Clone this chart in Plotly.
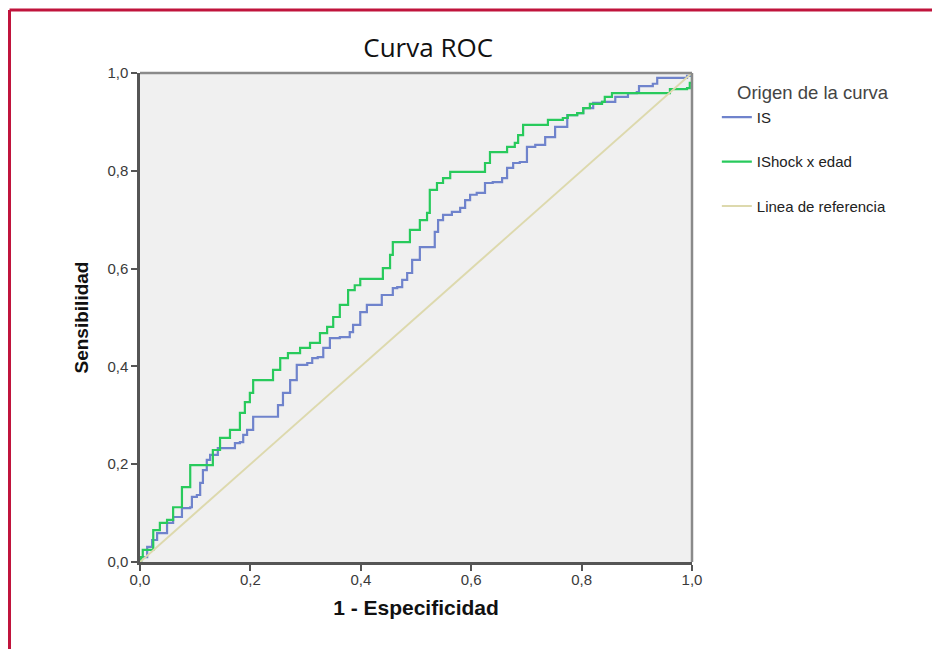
import plotly.graph_objects as go

# ---- data ----
is_x = [0.0, 0.002, 0.013, 0.022, 0.031, 0.042, 0.049, 0.06, 0.076, 0.091, 0.094, 0.103, 0.109, 0.114,
        0.121, 0.127, 0.141, 0.167, 0.172, 0.181, 0.187, 0.194, 0.205, 0.241, 0.25, 0.259, 0.272,
        0.284, 0.303, 0.312, 0.322, 0.332, 0.344, 0.362, 0.38, 0.386, 0.399, 0.411, 0.429, 0.438,
        0.458, 0.466, 0.475, 0.484, 0.493, 0.507, 0.522, 0.534, 0.54, 0.549, 0.565, 0.58, 0.589,
        0.598, 0.61, 0.625, 0.639, 0.656, 0.665, 0.676, 0.688, 0.701, 0.716, 0.734, 0.752, 0.774,
        0.792, 0.803, 0.821, 0.837, 0.861, 0.882, 0.884, 0.9, 0.904, 0.929, 0.937, 0.991, 1.0]
is_y = [0.0, 0.01, 0.031, 0.045, 0.059, 0.059, 0.08, 0.092, 0.11, 0.112, 0.133, 0.137, 0.162, 0.188,
        0.209, 0.219, 0.233, 0.233, 0.243, 0.245, 0.26, 0.27, 0.297, 0.297, 0.321, 0.346, 0.372,
        0.403, 0.407, 0.417, 0.419, 0.438, 0.458, 0.46, 0.47, 0.485, 0.511, 0.526, 0.526, 0.546,
        0.56, 0.562, 0.577, 0.591, 0.618, 0.644, 0.644, 0.675, 0.699, 0.71, 0.716, 0.724, 0.74,
        0.751, 0.755, 0.775, 0.777, 0.785, 0.806, 0.816, 0.818, 0.849, 0.853, 0.869, 0.89, 0.914,
        0.918, 0.928, 0.939, 0.941, 0.951, 0.951, 0.959, 0.961, 0.973, 0.978, 0.99, 0.994, 1.0]

ish_x = [0.0, 0.002, 0.005, 0.024, 0.036, 0.049, 0.06, 0.076, 0.091, 0.123, 0.132, 0.145, 0.163,
         0.181, 0.19, 0.199, 0.205, 0.23, 0.241, 0.254, 0.268, 0.29, 0.308, 0.326, 0.339, 0.35,
         0.362, 0.377, 0.389, 0.399, 0.435, 0.44, 0.453, 0.458, 0.476, 0.489, 0.507, 0.52, 0.525,
         0.538, 0.549, 0.562, 0.616, 0.625, 0.634, 0.661, 0.665, 0.679, 0.685, 0.694, 0.737, 0.739,
         0.766, 0.775, 0.792, 0.803, 0.815, 0.837, 0.842, 0.855, 0.957, 0.96, 0.991, 0.996, 1.0]
ish_y = [0.0, 0.01, 0.025, 0.065, 0.08, 0.086, 0.112, 0.153, 0.198, 0.198, 0.229, 0.254, 0.27,
         0.305, 0.327, 0.346, 0.372, 0.372, 0.393, 0.417, 0.427, 0.438, 0.448, 0.468, 0.481, 0.501,
         0.526, 0.556, 0.566, 0.579, 0.579, 0.601, 0.628, 0.654, 0.654, 0.679, 0.699, 0.714, 0.761,
         0.775, 0.785, 0.798, 0.798, 0.816, 0.838, 0.838, 0.849, 0.857, 0.873, 0.894, 0.894, 0.904,
         0.908, 0.914, 0.918, 0.928, 0.937, 0.941, 0.951, 0.959, 0.959, 0.967, 0.969, 0.98, 1.0]

ref_x = [0.0, 1.0]
ref_y = [0.0, 1.0]

tick_vals = [0.0, 0.2, 0.4, 0.6, 0.8, 1.0]
tick_text = ["0,0", "0,2", "0,4", "0,6", "0,8", "1,0"]

names = ["IS", "IShock x edad", "Linea de referencia"]
colors = ["#6f83cc", "#28ca5c", "#ddd9ad"]

fig = go.Figure()
fig.add_trace(go.Scatter(x=is_x, y=is_y, mode="lines", name=names[0], legendgroup="a",
                         line=dict(color=colors[0], width=2.2, shape="hv")))
fig.add_trace(go.Scatter(x=ish_x, y=ish_y, mode="lines", name=names[1], legendgroup="b",
                         line=dict(color=colors[1], width=2.2, shape="hv")))
fig.add_trace(go.Scatter(x=ref_x, y=ref_y, mode="lines", name=names[2], legendgroup="c",
                         line=dict(color=colors[2], width=2)))

axis_common = dict(range=[0, 1], tickvals=tick_vals, ticktext=tick_text, showgrid=False,
                   zeroline=False, showline=True, linecolor="#555555", linewidth=2.5,
                   ticks="outside", ticklen=6, tickwidth=2, tickcolor="#555555",
                   tickfont=dict(family="Liberation Sans", size=15, color="#3a3a3a"))

fig.update_xaxes(**axis_common, ticklabelstandoff=-4,
                 title=dict(text="<b>1 - Especificidad</b>", standoff=14,
                            font=dict(family="Liberation Sans", size=21, color="#111111")))
fig.update_yaxes(**axis_common,
                 title=dict(text="<b>Sensibilidad</b>", standoff=14,
                            font=dict(family="Liberation Sans", size=19, color="#111111")))

shapes = [
    # lighter top/right frame of plot area
    dict(type="line", xref="paper", yref="paper", x0=0, x1=1, y0=1, y1=1,
         line=dict(color="#8a8a8a", width=2.5)),
    dict(type="line", xref="paper", yref="paper", x0=1, x1=1, y0=0, y1=1,
         line=dict(color="#8a8a8a", width=2.5)),
    # crimson outer border (top and left)
    dict(type="line", xref="paper", yref="paper", x0=-0.2364, x1=1.5, y0=1.129, y1=1.129,
         line=dict(color="#c0143c", width=3)),
    dict(type="line", xref="paper", yref="paper", x0=-0.2364, x1=-0.2364, y0=1.129, y1=-0.2,
         line=dict(color="#c0143c", width=3)),
]

annotations = [
    dict(text="Origen de la curva", xref="paper", yref="paper", x=1.078, y=0.961,
         xanchor="left", yanchor="middle", showarrow=False,
         font=dict(family="Liberation Sans", size=18.5, color="#444444")),
]

fig.update_layout(
    width=940, height=649,
    margin=dict(l=132, r=256, t=65, b=95),
    paper_bgcolor="white", plot_bgcolor="#f0f0f0",
    title=dict(text="Curva ROC", x=0.447, xanchor="center", y=0.938, yanchor="middle",
               font=dict(family="Open Sans", size=26, color="#111111")),
    legend=dict(x=1.045, y=0.943, xanchor="left", yanchor="top",
                traceorder="grouped", tracegroupgap=22,
                font=dict(family="Liberation Sans", size=15, color="#222222"),
                bgcolor="rgba(0,0,0,0)", itemwidth=30),
    shapes=shapes,
    annotations=annotations,
    showlegend=True,
)

fig.write_html("out.html")
